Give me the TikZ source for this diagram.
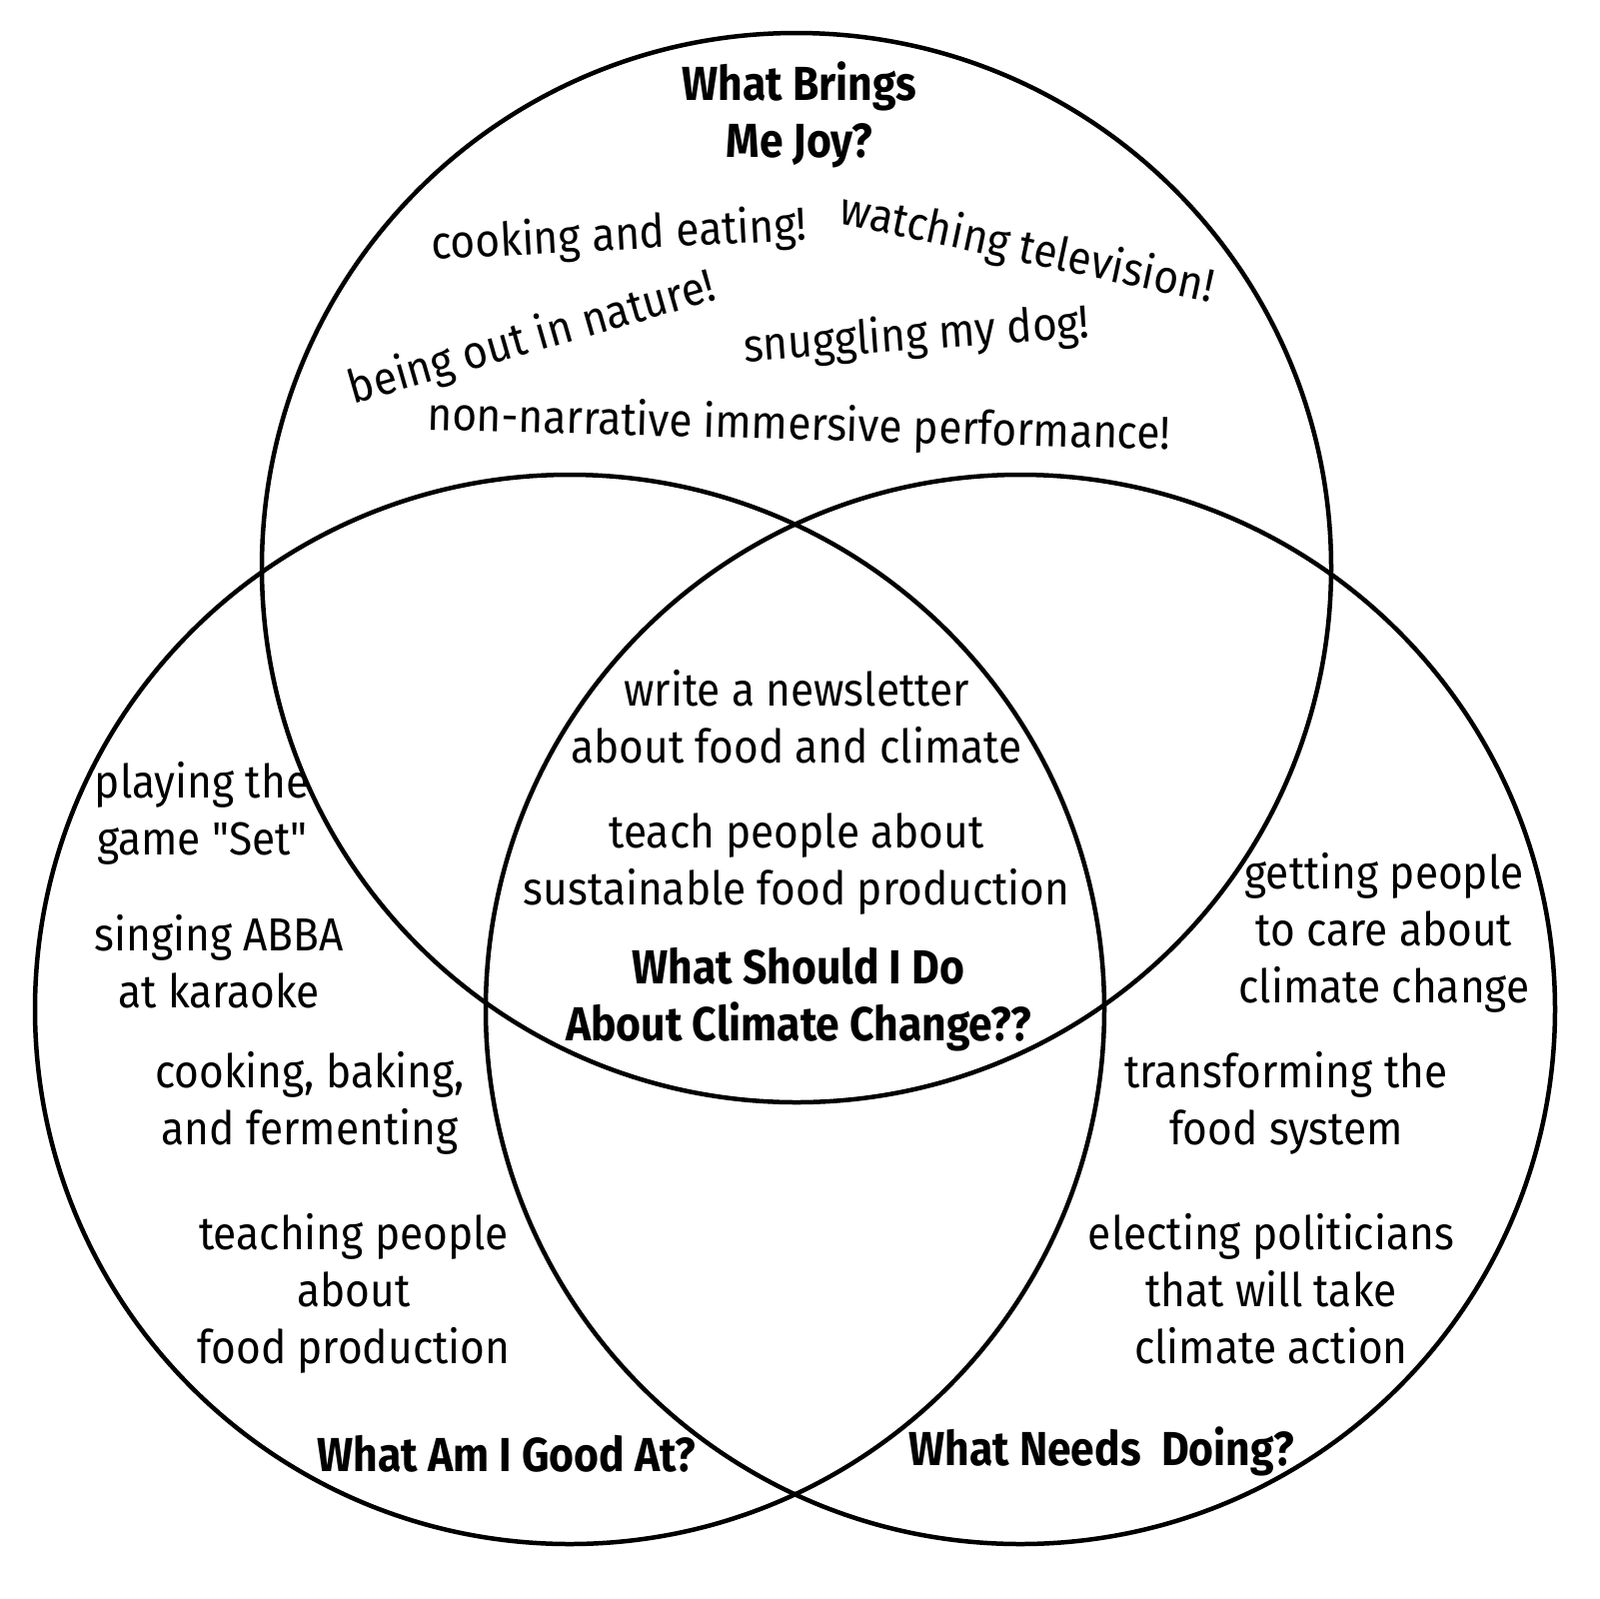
\documentclass[tikz,border=0pt]{standalone}
\usepackage{fontspec}
\newfontfamily\bodyfont{Fira Sans}[FakeStretch=0.915]
\newfontfamily\titlefont{Fira Sans}[FakeStretch=0.893]
\begin{document}
\begin{tikzpicture}[x=0.1mm,y=-0.1mm,
  ring/.style={draw=black,line width=1.28pt},
  body/.style={font=\bodyfont\fontsize{13.2}{16.2}\selectfont, align=center, inner sep=0pt, anchor=base},
  heading/.style={font=\titlefont\bfseries\fontsize{13.6}{16.2}\selectfont, align=center, inner sep=0pt, anchor=base}]
\useasboundingbox[fill=white] (0,0) rectangle (1600,1600);
% circles
\draw[ring] (797,568) circle[radius=535];
\draw[ring] (570,1010) circle[radius=535];
\draw[ring] (1021,1010) circle[radius=535];
% top circle (multi-line nodes: base = last line's baseline)
\node[heading] (joy) at (800,157) {What Brings\\Me Joy?};
\node[body, rotate=3] (cook) at (620,250) {cooking and eating!};
\node[body, rotate=-12] (tv) at (1025,263) {watching television!};
\node[body, rotate=16] (nature) at (536,352) {being out in nature!};
\node[body, rotate=4] (dog) at (918,350) {snuggling my dog!};
\node[body, rotate=-1.5] (perf) at (799,440) {non-narrative immersive performance!};
% centre
\node[body] (news) at (797,763) {write a newsletter\\about food and climate};
\node[body] (teach) at (797,905) {teach people about\\sustainable food production};
\node[heading] (climate) at (799,1041) {What Should I Do\\About Climate Change??};
% left circle
\node[body] (set) at (202,855) {playing the\\game "Set"};
\node[body] (abba) at (219,1008) {singing ABBA\\at karaoke};
\node[body] (bake) at (310,1145) {cooking, baking,\\and fermenting};
\node[body] (teaching) at (354,1364) {teaching people\\about\\food production};
\node[heading] (good) at (507,1472) {What Am I Good At?};
% right circle
\node[body] (care) at (1385,1003) {getting people\\to care about\\climate change};
\node[body] (food) at (1287,1145) {transforming the\\food system};
\node[body] (elect) at (1272,1364) {electing politicians\\that will take\\climate action};
\node[heading] (needs) at (1102,1466) {What Needs\ \ Doing?};
\end{tikzpicture}
\end{document}
